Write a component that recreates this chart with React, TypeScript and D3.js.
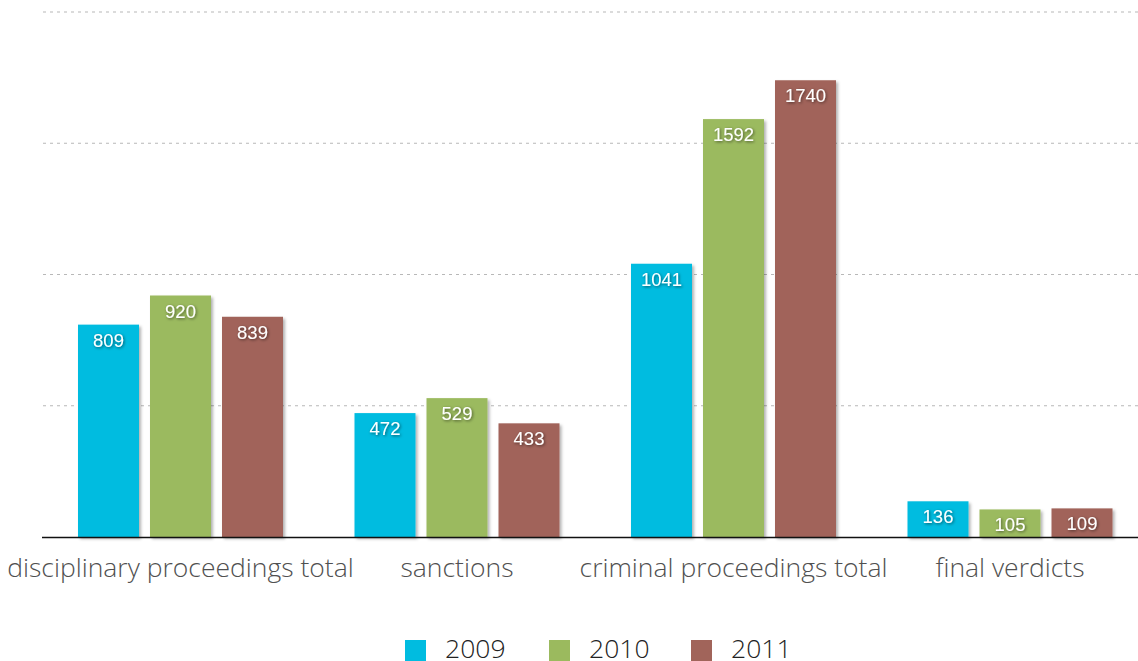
import React from "react";
import * as d3 from "d3";

const categories = ["disciplinary proceedings total", "sanctions", "criminal proceedings total", "final verdicts"];
const years = ["2009", "2010", "2011"];
const values2009 = [809, 472, 1041, 136];
const values2010 = [920, 529, 1592, 105];
const values2011 = [839, 433, 1740, 109];
const gridTicks = [500, 1000, 1500, 2000];
const colors = ["#00BCE0", "#9BBA5E", "#A1645A"];

const W = 1138;
const H = 661;

export default function App() {
  const series = [values2009, values2010, values2011];
  const y = d3.scaleLinear().domain([0, 2000]).range([537, 12]);
  const x0 = d3.scaleBand<string>().domain(categories).range([42.25, 1148.25]);
  const p = 11 / 72;
  const x1 = d3
    .scaleBand<string>()
    .domain(years)
    .range([0, x0.bandwidth() - 60.5])
    .paddingInner(p)
    .paddingOuter(p / 2);
  const groupOffset = 30.25;

  const legendX = d3.scaleOrdinal<string, number>().domain(years).range([405, 549, 691]);

  return (
    <svg
      width={W}
      height={H}
      style={{ position: "absolute", top: 0, left: 0, background: "#fff" }}
    >
      <defs>
        <filter id="barShadow" x="-10%" y="-10%" width="130%" height="130%">
          <feDropShadow dx="2" dy="2" stdDeviation="1.5" floodColor="#000" floodOpacity="0.3" />
        </filter>
        <filter id="textShadow" x="-30%" y="-30%" width="160%" height="160%">
          <feDropShadow dx="1" dy="1" stdDeviation="1.5" floodColor="#000" floodOpacity="0.55" />
        </filter>
      </defs>
      {gridTicks.map((t) => (
        <line
          key={t}
          x1={43}
          x2={W}
          y1={y(t)}
          y2={y(t)}
          stroke="#b8b8b8"
          strokeWidth={1.2}
          strokeDasharray="3 4"
        />
      ))}
      {categories.map((c, ci) => (
        <g key={c} transform={`translate(${(x0(c) as number) + groupOffset},0)`}>
          {years.map((yr, yi) => {
            const v = series[yi][ci];
            const bx = x1(yr) as number;
            return (
              <rect
                key={yr}
                x={bx}
                y={y(v)}
                width={x1.bandwidth()}
                height={y(0) - y(v)}
                fill={colors[yi]}
                filter="url(#barShadow)"
              />
            );
          })}
        </g>
      ))}
      <line x1={42} x2={W} y1={537.5} y2={537.5} stroke="#111" strokeWidth={1.3} />
      {categories.map((c, ci) => (
        <g key={c + "l"} transform={`translate(${(x0(c) as number) + groupOffset},0)`}>
          {years.map((yr, yi) => {
            const v = series[yi][ci];
            const bx = x1(yr) as number;
            return (
              <text
                key={yr}
                x={bx + x1.bandwidth() / 2}
                y={y(v) + 22}
                textAnchor="middle"
                fill="#fff"
                fontFamily="'Liberation Sans', Arial, sans-serif"
                fontSize={18.5}
                filter="url(#textShadow)"
              >
                {v}
              </text>
            );
          })}
        </g>
      ))}
      {categories.map((c) => (
        <text
          key={c + "c"}
          x={(x0(c) as number) + x0.bandwidth() / 2}
          y={577}
          textAnchor="middle"
          fill="#505050"
          fontFamily="'Open Sans', sans-serif"
          fontWeight={300}
          fontSize={26.5}
        >
          {c}
        </text>
      ))}
      {years.map((yr, yi) => (
        <g key={yr + "lg"}>
          <rect x={legendX(yr)} y={640} width={21} height={21} fill={colors[yi]} />
          <text
            x={legendX(yr) + 40}
            y={658}
            fill="#222"
            fontFamily="'Open Sans', sans-serif"
            fontWeight={300}
            fontSize={26.5}
          >
            {yr}
          </text>
        </g>
      ))}
    </svg>
  );
}
